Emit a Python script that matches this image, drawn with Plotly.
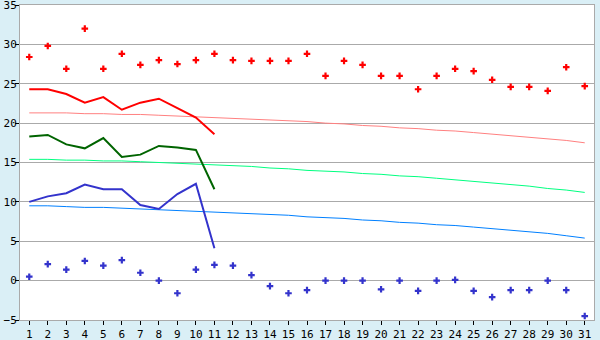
import plotly.graph_objects as go

days = list(range(1, 32))

max_temp = [28.4, 29.8, 26.9, 32.0, 26.9, 28.8, 27.4, 28.0, 27.5, 28.0,
            28.8, 28.0, 27.9, 27.9, 27.9, 28.8, 26.0, 27.9, 27.4, 26.0,
            26.0, 24.3, 26.0, 26.9, 26.6, 25.5, 24.6, 24.6, 24.1, 27.1, 24.7]
min_temp = [0.5, 2.1, 1.4, 2.5, 1.9, 2.6, 1.0, 0.0, -1.6, 1.4,
            2.0, 1.9, 0.7, -0.7, -1.6, -1.2, 0.0, 0.0, 0.0, -1.1,
            0.0, -1.3, 0.0, 0.1, -1.3, -2.1, -1.2, -1.2, 0.0, -1.2, -4.5]

line_days = list(range(1, 12))
line_max = [24.3, 24.3, 23.7, 22.6, 23.3, 21.7, 22.6, 23.1, 21.9, 20.7, 18.6]
line_mean = [18.3, 18.5, 17.3, 16.8, 18.1, 15.7, 16.0, 17.1, 16.9, 16.6, 11.6]
line_min = [10.0, 10.7, 11.1, 12.2, 11.6, 11.6, 9.6, 9.1, 11.0, 12.3, 4.1]

normal_max = [21.3, 21.3, 21.3, 21.2, 21.2, 21.1, 21.1, 21.0, 20.9, 20.8,
              20.7, 20.6, 20.5, 20.4, 20.3, 20.2, 20.0, 19.9, 19.7, 19.6,
              19.4, 19.3, 19.1, 19.0, 18.8, 18.6, 18.4, 18.2, 18.0, 17.8, 17.5]
normal_mean = [15.4, 15.4, 15.3, 15.3, 15.2, 15.2, 15.1, 15.0, 14.9, 14.8,
               14.7, 14.6, 14.5, 14.3, 14.2, 14.0, 13.9, 13.8, 13.6, 13.5,
               13.3, 13.2, 13.0, 12.8, 12.6, 12.4, 12.2, 12.0, 11.7, 11.5, 11.2]
normal_min = [9.5, 9.5, 9.4, 9.3, 9.3, 9.2, 9.1, 9.0, 8.9, 8.8,
              8.7, 8.6, 8.5, 8.4, 8.3, 8.1, 8.0, 7.9, 7.7, 7.6,
              7.4, 7.3, 7.1, 7.0, 6.8, 6.6, 6.4, 6.2, 6.0, 5.7, 5.4]

y_ticks = [-5, 0, 5, 10, 15, 20, 25, 30, 35]

fig = go.Figure()

fig.add_trace(go.Scatter(x=days, y=normal_max, mode="lines",
                         line=dict(color="#FF8080", width=1)))
fig.add_trace(go.Scatter(x=days, y=normal_mean, mode="lines",
                         line=dict(color="#00FF80", width=1)))
fig.add_trace(go.Scatter(x=days, y=normal_min, mode="lines",
                         line=dict(color="#0080FF", width=1)))

fig.add_trace(go.Scatter(x=line_days, y=line_max, mode="lines",
                         line=dict(color="#FF0000", width=2)))
fig.add_trace(go.Scatter(x=line_days, y=line_mean, mode="lines",
                         line=dict(color="#006400", width=2)))
fig.add_trace(go.Scatter(x=line_days, y=line_min, mode="lines",
                         line=dict(color="#3333CC", width=2)))

fig.add_trace(go.Scatter(x=days, y=max_temp, mode="markers",
                         marker=dict(symbol="cross", size=5.5, color="#FF0000")))
fig.add_trace(go.Scatter(x=days, y=min_temp, mode="markers",
                         marker=dict(symbol="cross", size=5.5, color="#3333CC")))

fig.update_layout(
    width=600, height=340,
    margin=dict(l=20, r=6, t=5, b=20),
    paper_bgcolor="#DAEFF6",
    plot_bgcolor="#FFFFFF",
    showlegend=False,
    font=dict(family="DejaVu Sans Mono", size=11, color="#000000"),
)
fig.update_xaxes(
    range=[0.5, 31.5], tickvals=days, ticktext=[str(d) for d in days],
    ticks="outside", ticklen=4, tickcolor="#000000",
    showgrid=False, showline=True, linecolor="#AAAAAA", mirror=True,
    zeroline=False, tickfont=dict(size=11), automargin=False,
    ticklabeloverflow="allow",
)
fig.update_yaxes(
    range=[-5, 35], tickvals=y_ticks,
    ticks="outside", ticklen=4, tickcolor="#000000",
    showgrid=True, gridcolor="#AAAAAA", gridwidth=1,
    showline=True, linecolor="#AAAAAA", mirror=True,
    zeroline=False, tickfont=dict(size=11), automargin=False,
    ticklabeloverflow="allow", ticklabelstandoff=-4,
)

fig.write_html("out.html")
